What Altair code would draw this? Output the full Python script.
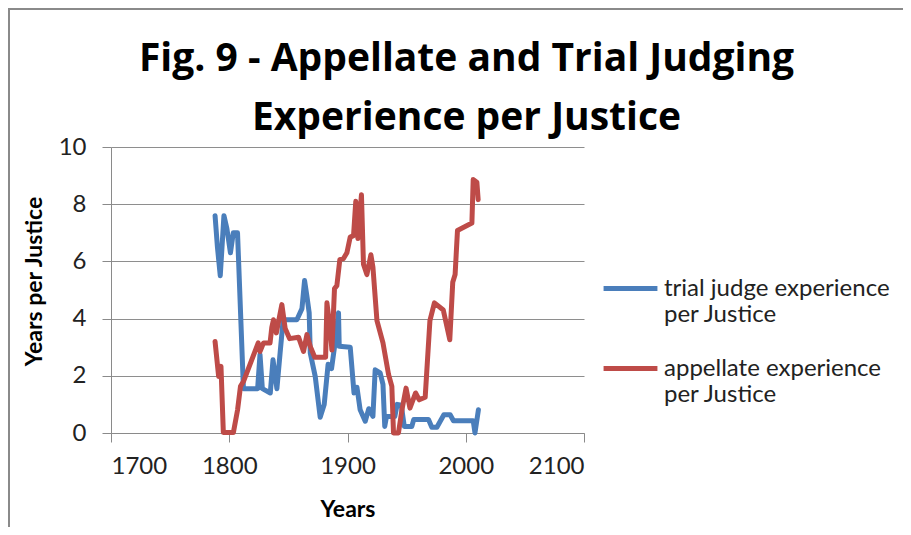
import altair as alt
import pandas as pd

# ---- data ----
trial_years = [1788, 1790, 1792.4, 1795.5, 1798, 1801, 1803.4, 1807, 1812, 1824, 1826, 1828,
               1834.7, 1837, 1840.3, 1843, 1845.6, 1857.2, 1861.5, 1863.7, 1865.7, 1867.6,
               1868.5, 1872.7, 1876.9, 1880.3, 1883.6, 1886.5, 1889, 1892.4, 1893, 1902.3,
               1905.5, 1908, 1910.7, 1915, 1918, 1920.6, 1921.5, 1923.4, 1927.6, 1930,
               1931.5, 1933, 1940, 1942, 1945.5, 1948, 1954.4, 1956, 1968.5, 1971.3,
               1975.6, 1981.5, 1986.8, 1989.6, 2006.3, 2007.8, 2010.7]
trial_vals = [7.6, 6.5, 5.5, 7.6, 7.15, 6.3, 7.0, 7.0, 1.55, 1.55, 2.75, 1.55,
              1.4, 2.56, 1.55, 2.8, 3.96, 3.96, 4.35, 5.33, 4.78, 4.2,
              2.8, 1.98, 0.55, 1.0, 2.4, 2.25, 3.0, 4.2, 3.03, 3.0,
              1.4, 1.6, 0.81, 0.41, 0.85, 0.65, 0.58, 2.21, 2.1, 1.7,
              0.23, 0.58, 0.58, 1.0, 0.97, 0.23, 0.23, 0.47, 0.47, 0.2,
              0.2, 0.64, 0.64, 0.43, 0.43, 0.0, 0.81]

app_years = [1788, 1791, 1793, 1795, 1803.5, 1807, 1809.5, 1812, 1824.5, 1826, 1829,
             1834.5, 1836, 1837.4, 1839.8, 1844.5, 1847.3, 1851, 1858.6, 1862.8, 1865.7,
             1868.5, 1872.3, 1881.5, 1882.6, 1885.4, 1886.8, 1889, 1891, 1893.5, 1896.6,
             1899.5, 1902.3, 1905.1, 1907, 1908.8, 1911.8, 1913.5, 1916.4, 1919.8, 1921.5,
             1924.9, 1930, 1934.7, 1937.5, 1938.9, 1943.1, 1946, 1949.5, 1952.8, 1957.6,
             1960.7, 1965.7, 1969.7, 1973.5, 1981, 1986.5, 1989, 1991, 1993, 2005.2,
             2006.3, 2009.4, 2010.5]
app_vals = [3.2, 1.98, 2.33, 0.02, 0.02, 0.8, 1.63, 1.8, 3.15, 2.85, 3.15,
            3.15, 3.7, 3.96, 3.5, 4.49, 3.65, 3.3, 3.35, 2.85, 3.44,
            3.03, 2.65, 2.65, 4.55, 3.61, 2.9, 5.05, 5.15, 6.06, 6.1,
            6.3, 6.85, 6.9, 8.1, 6.8, 8.33, 5.9, 5.54, 6.23, 5.8,
            3.93, 3.15, 2.05, 1.63, 0.0, 0.0, 0.8, 1.57, 0.87, 1.4,
            1.16, 1.25, 3.93, 4.55, 4.3, 3.26, 5.27, 5.54, 7.08, 7.34,
            8.86, 8.77, 8.16]

series_names = ["trial judge experience\nper Justice", "appellate experience\nper Justice"]
series_colors = ["#4A7EBB", "#BE4B48"]
x_ticks = [1700, 1800, 1900, 2000, 2100]
y_ticks = [0, 2, 4, 6, 8, 10]
title_lines = ["Fig. 9 - Appellate and Trial Judging", "Experience per Justice"]

rows = []
for i, (yr, v) in enumerate(zip(trial_years, trial_vals)):
    rows.append({"Year": yr, "Value": v, "Series": series_names[0], "idx": i})
for i, (yr, v) in enumerate(zip(app_years, app_vals)):
    rows.append({"Year": yr, "Value": v, "Series": series_names[1], "idx": i})
df = pd.DataFrame(rows)

FONT = "Lato"

lines = alt.Chart(df).mark_line(strokeWidth=5, strokeJoin="round", strokeCap="round").encode(
    x=alt.X("Year:Q", scale=alt.Scale(domain=[1700, 2100], nice=False, zero=False),
            axis=alt.Axis(values=x_ticks, format="d", grid=False, title="Years",
                          tickSize=9, labelPadding=12, titlePadding=20)),
    y=alt.Y("Value:Q", scale=alt.Scale(domain=[0, 10], nice=False),
            axis=alt.Axis(values=y_ticks, grid=True, title="Years per Justice",
                          tickSize=9, labelPadding=16, titlePadding=12, titleY=134)),
    color=alt.Color("Series:N", sort=series_names,
                    scale=alt.Scale(domain=series_names, range=series_colors),
                    legend=alt.Legend(title=None, orient="none", legendX=490, legendY=112,
                                      symbolType="stroke", symbolSize=2900,
                                      symbolStrokeWidth=5, labelFont=FONT,
                                      labelFontSize=24, labelLimit=0, labelColor="#222222",
                                      labelExpr="split(datum.label, '\\n')",
                                      labelBaseline="middle", rowPadding=12,
                                      labelOffset=4)),
    order="idx:Q",
)

# chart-area border (top and left edges, as in the reference crop)
border_top = alt.Chart(df).mark_rule(color="#8a8a8a", strokeWidth=2).encode(
    x=alt.value(-103), x2=alt.value(800), y=alt.value(-138.5))
border_left = alt.Chart(df).mark_rule(color="#8a8a8a", strokeWidth=2).encode(
    x=alt.value(-102.5), y=alt.value(-139), y2=alt.value(400))

chart = alt.layer(lines, border_top, border_left).properties(
    width=473, height=286,
    padding={"left": 103, "top": 139, "right": 319, "bottom": 94},
    autosize=alt.AutoSizeParams(type="none"),
    title=alt.TitleParams(text=title_lines, font="Open Sans", fontSize=39, fontWeight="bold",
                          lineHeight=59, anchor="middle", dx=119, dy=135, color="black"),
).configure_axis(
    labelFont=FONT, labelFontSize=24, labelColor="#222222",
    titleFont=FONT, titleFontSize=23, titleFontWeight="bold", titleColor="black",
    domainColor="#8a8a8a", tickColor="#8a8a8a", gridColor="#8e8e8e",
    domainWidth=1, tickWidth=1, gridWidth=1,
).configure_view(stroke=None)

chart.save("out.html", embed_options={"renderer": "svg", "actions": False})
